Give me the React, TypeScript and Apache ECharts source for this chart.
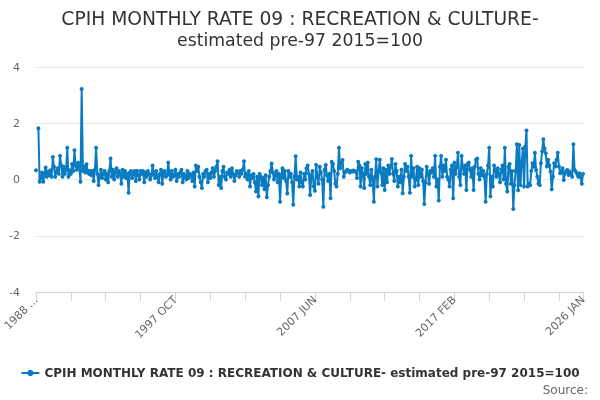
import React, { useEffect, useRef } from "react";
import * as echarts from "echarts";

const TITLE_LINE_1 = "CPIH MONTHLY RATE 09 : RECREATION & CULTURE-";
const TITLE_LINE_2 = "estimated pre-97 2015=100";
const SERIES_NAME = "CPIH MONTHLY RATE 09 : RECREATION & CULTURE- estimated pre-97 2015=100";
const SOURCE_TEXT = "Source:";
const MONTHS = ["JAN", "FEB", "MAR", "APR", "MAY", "JUN", "JUL", "AUG", "SEP", "OCT", "NOV", "DEC"];
const START_YEAR = 1988;
const START_MONTH = 1; // FEB
const Y_TICKS = [-4, -2, 0, 2, 4];

// 1988 FEB – 1992 JUN
const valuesA = [
  0.33, null, 1.82, -0.08, 0.05, 0.25, -0.08, 0.2, 0.43, 0.1,
  0.28, 0.15, 0.33, 0.1, 0.8, 0.45, 0.1, 0.3, 0.4, 0.2,
  0.84, 0.5, 0.1, 0.45, 0.2, 0.35, 1.13, 0.1, 0.33, 0.2,
  0.55, 0.3, 1.04, 0.5, 0.35, 0.6, 0.45, -0.08, 3.22, 0.3,
  0.45, 0.25, 0.54, 0.3, 0.2, 0.3, 0.15, 0.3, -0.05, 0.35,
  1.13, 0.2, -0.2,
];
const valuesB = [
  0.1, 0.35, 0.05, 0.2, 0.3, 0.0, 0.2, -0.1, 0.3, 0.75,
  0.1, 0.35, 0.0, 0.25, 0.4, 0.1, 0.3, 0.2, -0.15, 0.35,
  0.1, 0.3, 0.05, 0.2, -0.47, 0.25, 0.3, 0.05, 0.2, 0.3,
  -0.05, 0.3, 0.15, 0.0, 0.3, 0.2, 0.3, -0.1, 0.25, 0.1,
  0.3, 0.2, 0.0, 0.15, 0.5, 0.2, 0.05, 0.3, 0.1, -0.1,
  0.2, 0.35, -0.15, 0.25, 0.3, 0.1, 0.15, 0.6,
];
const valuesC = [
  0.2, 0.0, 0.3, 0.1, 0.15, 0.35, -0.05, 0.2, 0.1, 0.25,
  0.35, -0.1, 0.2, 0.1, 0.0, 0.3, 0.05, 0.2, 0.15, -0.05,
  0.25, -0.25, 0.5, 0.3, 0.45, 0.1, -0.1, -0.3, 0.2, 0.1,
  0.3, 0.35, -0.1, 0.2, 0.05, 0.25, 0.4, 0.1, 0.3, 0.45,
  0.65, -0.2, 0.1, -0.3, 0.3, 0.45, 0.1, 0.0, 0.25, 0.2,
  0.35, 0.1, 0.4, 0.2, -0.05, 0.15, 0.3, 0.25,
];
const valuesD = [
  0.1, 0.3, 0.2, 0.35, 0.65, 0.1, 0.2, 0.0, 0.3, -0.25,
  0.15, 0.05, 0.2, -0.1, -0.43, 0.1, -0.6, 0.2, 0.1, -0.2,
  0.05, -0.35, 0.15, -0.63, -0.2, 0.1, 0.3, 0.57, 0.25, 0.0,
  0.15, 0.3, -0.1, 0.2, -0.79, 0.1, 0.4, 0.05, 0.3, -0.05,
  -0.5, 0.3, 0.1, 0.2, -0.1, -0.9, 0.1, 0.83, 0.0, 0.1,
  -0.25, 0.25, -0.1, -0.25, 0.2, 0.0, 0.4, 0.5,
];
const valuesE = [
  0.2, -0.55, 0.1, 0.3, -0.25, -0.4, 0.52, 0.1, -0.15, 0.45,
  0.25, 0.0, -0.97, 0.35, 0.52, 0.15, -0.05, 0.2, -0.67, 0.63,
  0.55, 0.3, -0.15, -0.25, 0.2, 1.13, 0.4, 0.6, 0.69, 0.1,
  0.25, 0.3, 0.35, 0.3, 0.25, 0.3, 0.28, 0.32, 0.3, 0.27,
  0.05, 0.63, 0.5, -0.25, 0.4, 0.2, -0.3, 0.55, 0.2, 0.6,
  0.1, -0.2, 0.35, 0.0, -0.79, 0.1, 0.72, -0.25,
];
const valuesF = [
  0.3, 0.7, 0.25, -0.2, 0.4, -0.37, 0.35, -0.1, 0.5, 0.2,
  0.45, 0.73, 0.2, -0.05, 0.55, 0.3, -0.25, 0.1, -0.1, 0.35,
  -0.49, 0.1, 0.55, 0.3, 0.45, 0.1, -0.47, 0.84, 0.1, 0.4,
  -0.25, 0.0, 0.45, -0.2, 0.4, 0.1, 0.35, -0.05, -0.87, -0.1,
  0.45, 0.2, -0.15, 0.3, 0.25, 0.4, 0.1, 0.84, -0.25, 0.0,
  -0.75, 0.45, 0.84, 0.1, 0.5, 0.3, 0.7, 0.1,
];
const valuesG = [
  0.0, -0.25, 0.35, 0.5, -0.67, 0.6, 0.2, 0.45, 0.95, 0.1,
  -0.2, 0.84, 0.45, 0.2, 0.5, -0.37, 0.55, 0.6, 0.35, 0.1,
  0.4, -0.37, 0.45, 0.7, 0.75, 0.2, 0.0, 0.4, 0.15, 0.3,
  0.1, -0.79, 0.2, 0.5, 1.13, -0.6, 0.1, -0.25, 0.5, 0.35,
  0.1, 0.4, 0.2, -0.1, 0.35, 0.5, 0.0, 1.13, -0.15, -0.43,
  0.45, 0.55, -0.15, 0.3, -1.05, -0.2, 0.3, 1.25,
];
const valuesH = [
  -0.38, 1.23, -0.2, 0.6, 1.1, -0.25, 1.17, 1.74, -0.25, -0.14,
  -0.2, 0.3, 0.58, 0.45, 0.95, 0.34, 0.1, -0.14, -0.2, 0.58,
  1.0, 1.43, 1.1, 0.93, 0.46, 0.7, 0.5, 0.28, -0.35, 0.1,
  0.58, 0.46, 0.7, 0.95, 0.46, 0.22, 0.3, 0.4, -0.02, 0.22,
  0.3, 0.34, 0.16, 0.28, 0.2, 0.1, 1.25, 0.34, 0.28, 0.2,
  0.1, 0.22, 0.1, -0.15, 0.2,
];

const VALUES = [
  ...valuesA, ...valuesB, ...valuesC, ...valuesD,
  ...valuesE, ...valuesF, ...valuesG, ...valuesH,
];

const CATEGORIES = VALUES.map((_, i) => {
  const m = START_MONTH + i;
  return `${START_YEAR + Math.floor(m / 12)} ${MONTHS[m % 12]}`;
});

const LABEL_STEP = 116;
const TICK_STEP = 29;
const FONT = "DejaVu Sans";
const BLUE = "#0b7bc1";

export default function App() {
  const ref = useRef<HTMLDivElement>(null);
  useEffect(() => {
    if (!ref.current) return;
    const chart = echarts.init(ref.current, null, { renderer: "svg" });
    const last = CATEGORIES.length - 1;
    chart.setOption({
      animation: false,
      textStyle: { fontFamily: FONT },
      title: {
        text: `{a|${TITLE_LINE_1}}\n{b|${TITLE_LINE_2}}`,
        left: "center",
        top: 3,
        textStyle: {
          fontFamily: FONT,
          fontWeight: "normal",
          color: "#333",
          rich: {
            a: { fontFamily: FONT, fontSize: 18.7, color: "#333", lineHeight: 21, align: "center" },
            b: { fontFamily: FONT, fontSize: 17.3, color: "#333", lineHeight: 21, align: "center" },
          },
        },
      },
      grid: { left: 36, right: 17, top: 67, height: 225, containLabel: false },
      legend: {
        bottom: 16,
        left: "center",
        itemWidth: 18,
        itemHeight: 8,
        itemGap: 4,
        textStyle: { fontFamily: FONT, fontSize: 12, fontWeight: "bold", color: "#333" },
        data: [SERIES_NAME],
      },
      graphic: [
        {
          type: "text",
          right: 12,
          top: 384,
          style: { text: SOURCE_TEXT, fill: "#666", font: `12px '${FONT}'` },
        },
      ],
      xAxis: {
        type: "category",
        data: CATEGORIES,
        boundaryGap: false,
        axisLine: { onZero: false, lineStyle: { color: "#ccd6eb" } },
        axisTick: {
          length: 9,
          lineStyle: { color: "#ccd6eb" },
          interval: (i: number) => i % TICK_STEP === 0 || i === last,
        },
        axisLabel: {
          rotate: 45,
          color: "#666",
          fontSize: 11,
          fontFamily: FONT,
          margin: 6,
          interval: (i: number) => i % LABEL_STEP === 0 || i === last,
          formatter: (v: string, i: number) => (i === 0 ? v.slice(0, 5) + "..." : v),
        },
        splitLine: { show: false },
      },
      yAxis: {
        type: "value",
        min: Y_TICKS[0],
        max: Y_TICKS[Y_TICKS.length - 1],
        interval: 2,
        axisLine: { show: false },
        axisTick: { show: false },
        axisLabel: { color: "#666", fontSize: 11, fontFamily: FONT, margin: 16 },
        splitLine: { lineStyle: { color: "#e6e6e6" } },
      },
      series: [
        {
          name: SERIES_NAME,
          type: "line",
          data: VALUES,
          symbol: "circle",
          symbolSize: 4,
          showSymbol: true,
          showAllSymbol: true,
          connectNulls: false,
          color: BLUE,
          lineStyle: { width: 2, color: BLUE },
          itemStyle: { color: BLUE },
        },
      ],
    });
    return () => chart.dispose();
  }, []);
  return <div ref={ref} style={{ position: "fixed", left: 0, top: 0, width: 600, height: 400 }} />;
}
